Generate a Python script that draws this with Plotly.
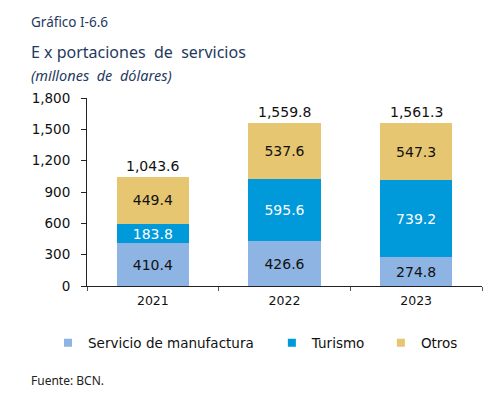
import plotly.graph_objects as go

years = ["2021", "2022", "2023"]
manufactura = [410.4, 426.6, 274.8]
turismo = [183.8, 595.6, 739.2]
otros = [449.4, 537.6, 547.3]
totales = [1043.6, 1559.8, 1561.3]
y_ticks = [0, 300, 600, 900, 1200, 1500, 1800]

series_names = ["Servicio de manufactura", "Turismo", "Otros"]
series_colors = ["#8DB4E2", "#0099DA", "#E6C670"]
label_colors = ["#111111", "#FFFFFF", "#111111"]
series_values = [manufactura, turismo, otros]
legend_ids = ["legend", "legend2", "legend3"]

navy = "#1F3A60"
font_main = "DejaVu Sans"

fig = go.Figure()
for name, vals, col, lcol in zip(series_names, series_values, series_colors, label_colors):
    fig.add_bar(x=years, y=vals, name=name, showlegend=False,
                marker=dict(color=col, line=dict(width=0)),
                text=[f"{v:.1f}" for v in vals], textposition="inside",
                insidetextanchor="middle", constraintext="none",
                textfont=dict(family=font_main, size=14, color=lcol))

# legend-only entries (small square swatches)
for name, col, lg in zip(series_names, series_colors, legend_ids):
    fig.add_scatter(x=[None], y=[None], mode="markers", name=name, legend=lg,
                    marker=dict(symbol="square", size=8, color=col), showlegend=True)

for i, t in enumerate(totales):
    fig.add_annotation(x=i, y=t, text=f"{t:,.1f}", showarrow=False,
                       yanchor="bottom", yshift=1,
                       font=dict(family=font_main, size=14, color="#111111"))

x0 = -0.147
fig.add_annotation(xref="paper", yref="paper", x=x0, y=1.0, xanchor="left",
                   yanchor="middle", yshift=76, text="Gráfico I-6.6", showarrow=False,
                   font=dict(family="Noto Sans", size=13.5, color=navy))
fig.add_annotation(xref="paper", yref="paper", x=x0, y=1.0, xanchor="left",
                   yanchor="middle", yshift=46,
                   text="E x portaciones  de  servicios", showarrow=False,
                   font=dict(family="Noto Sans", size=16, color=navy))
fig.add_annotation(xref="paper", yref="paper", x=x0, y=1.0, xanchor="left",
                   yanchor="middle", yshift=23, text="<i>(millones  de  dólares)</i>",
                   showarrow=False,
                   font=dict(family="Noto Sans", size=14.5, color=navy))
fig.add_annotation(xref="paper", yref="paper", x=x0, y=0, xanchor="left",
                   yanchor="middle", yshift=-94, text="Fuente: BCN.", showarrow=False,
                   font=dict(family="Noto Sans", size=12, color="#222222"))

legfont = dict(family=font_main, size=13.5, color="#111111")
leg_common = dict(orientation="h", yanchor="middle", y=-0.303, xanchor="left",
                  font=legfont, itemwidth=30, bgcolor="rgba(0,0,0,0)")

fig.update_layout(
    barmode="stack", bargap=0.45,
    width=492, height=385,
    margin=dict(l=79, r=18, t=90, b=107),
    plot_bgcolor="white", paper_bgcolor="white",
    showlegend=True,
    legend=dict(x=-0.0987, **leg_common),
    legend2=dict(x=0.468, **leg_common),
    legend3=dict(x=0.744, **leg_common),
    xaxis=dict(type="category", range=[-0.5, 2.5], showline=True,
               linecolor="#222222", linewidth=1,
               ticks="outside", tickson="boundaries", ticklen=4, tickcolor="#555555",
               ticklabelstandoff=3,
               tickfont=dict(family=font_main, size=12.5, color="#111111"),
               showgrid=False),
    yaxis=dict(range=[0, 1800], tickvals=y_ticks, tickformat=",",
               showline=True, linecolor="#222222", linewidth=1,
               ticks="outside", ticklen=5, tickcolor="#222222",
               ticklabelstandoff=8,
               tickfont=dict(family=font_main, size=13.5, color="#111111"),
               showgrid=False, zeroline=False),
)

fig.write_html("out.html")
